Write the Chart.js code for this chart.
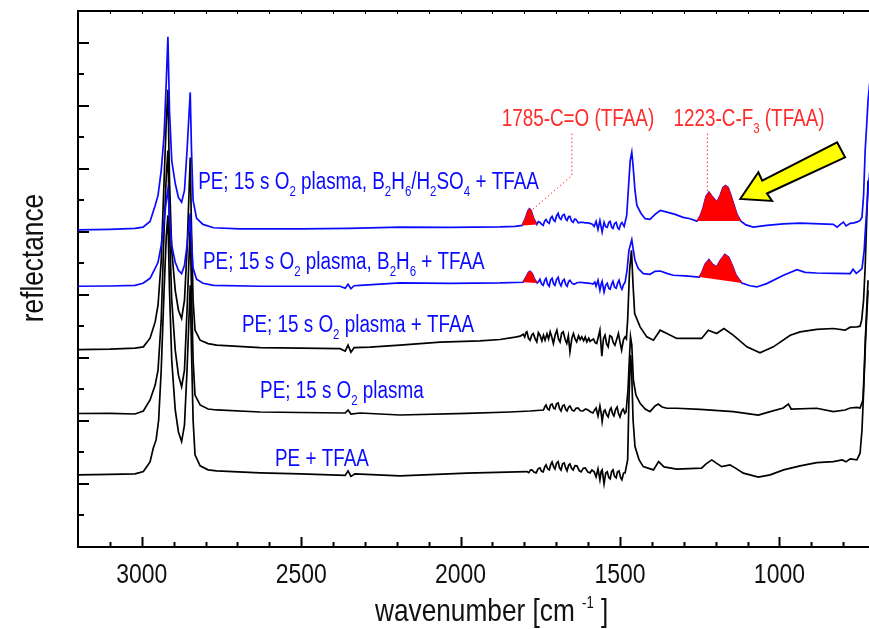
<!DOCTYPE html>
<html>
<head>
<meta charset="utf-8">
<script src="https://cdn.jsdelivr.net/npm/chart.js@4.4.0/dist/chart.umd.min.js"></script>
<style>
  html, body { margin: 0; padding: 0; background: #fff; }
  #wrap { width: 869px; height: 629px; }
</style>
</head>
<body>
<div id="wrap"><canvas id="spectra" width="869" height="629"></canvas></div>
<script>
// ============================================
// IR reflectance spectra of treated PE (stacked, offset)
// points are [wavenumber (cm-1), reflectance (a.u., offset)]
// ============================================

// PE; 15 s O2 plasma, B2H6/H2SO4 + TFAA
const traceBHS = [[3200,5.029],[3100,5.037],[3021,5.052],[2996,5.073],[2974,5.163],[2958,5.416],[2949,5.575],[2939,5.970],[2930,6.524],[2923,7.394],[2918,8.090],[2913,6.919],[2906,6.128],[2895,5.764],[2885,5.543],[2875,5.468],[2866,5.654],[2858,6.287],[2848,7.209],[2844,6.287],[2839,5.495],[2828,5.211],[2808,5.116],[2775,5.063],[2692,5.044],[2503,5.044],[2350,5.052],[2190,5.073],[2033,5.068],[1876,5.076],[1829,5.084],[1807,5.100],[1798,5.195],[1788,5.337],[1784,5.364],[1779,5.337],[1771,5.211],[1761,5.116],[1756,5.16],[1751,5.147],[1746,5.12],[1741,5.100],[1736,5.17],[1732,5.195],[1727,5.15],[1722,5.132],[1718,5.21],[1713,5.242],[1708,5.18],[1704,5.163],[1699,5.25],[1694,5.290],[1690,5.22],[1685,5.195],[1680,5.26],[1675,5.274],[1670,5.20],[1666,5.179],[1661,5.24],[1657,5.242],[1652,5.17],[1647,5.147],[1642,5.20],[1638,5.195],[1631,5.14],[1625,5.147],[1617,5.15],[1609,5.140],[1601,5.14],[1594,5.132],[1587,5.12],[1581,5.084],[1575,5.163],[1569,5.037],[1563,5.179],[1556,4.994],[1550,5.147],[1545,5.08],[1540,5.068],[1535,5.15],[1531,5.163],[1526,5.07],[1522,5.052],[1517,5.13],[1512,5.147],[1507,5.06],[1503,5.037],[1498,5.12],[1494,5.147],[1487,5.084],[1479,5.258],[1473,5.733],[1468,6.128],[1463,6.260],[1459,6.049],[1453,5.654],[1447,5.416],[1434,5.290],[1421,5.206],[1406,5.195],[1390,5.274],[1374,5.337],[1353,5.310],[1327,5.274],[1302,5.227],[1280,5.206],[1259,5.168],[1249,5.242],[1239,5.385],[1230,5.559],[1221,5.627],[1211,5.559],[1196,5.468],[1186,5.574],[1177,5.701],[1169,5.733],[1161,5.701],[1152,5.574],[1142,5.416],[1133,5.274],[1121,5.168],[1105,5.108],[1082,5.073],[1040,5.100],[988,5.124],[935,5.136],[872,5.124],[831,5.116],[819,5.073],[807,5.124],[799,5.152],[791,5.092],[778,5.132],[766,5.140],[756,5.155],[747,5.179],[741,5.231],[736,5.574],[731,6.287],[726,6.714],[722,7.078],[716,7.394]];

// PE; 15 s O2 plasma, B2H6 + TFAA
const traceBH = [[3200,4.135],[3100,4.139],[3021,4.150],[2996,4.182],[2974,4.261],[2958,4.420],[2949,4.514],[2939,4.783],[2930,5.179],[2923,5.495],[2918,5.665],[2913,5.258],[2906,4.783],[2895,4.514],[2885,4.388],[2875,4.336],[2866,4.467],[2858,4.783],[2848,5.290],[2844,4.862],[2839,4.420],[2828,4.245],[2808,4.182],[2775,4.150],[2629,4.135],[2503,4.135],[2378,4.135],[2362,4.103],[2353,4.166],[2344,4.095],[2334,4.143],[2315,4.150],[2190,4.187],[2033,4.182],[1876,4.187],[1804,4.198],[1795,4.277],[1787,4.356],[1782,4.372],[1776,4.341],[1768,4.245],[1760,4.187],[1755,4.21],[1751,4.245],[1746,4.17],[1741,4.150],[1736,4.23],[1732,4.261],[1727,4.17],[1722,4.135],[1718,4.23],[1713,4.261],[1708,4.17],[1704,4.150],[1699,4.24],[1694,4.277],[1690,4.19],[1685,4.143],[1680,4.22],[1675,4.245],[1670,4.16],[1666,4.135],[1661,4.21],[1657,4.230],[1650,4.18],[1644,4.166],[1635,4.19],[1625,4.198],[1610,4.19],[1594,4.182],[1585,4.17],[1579,4.20],[1575,4.135],[1569,4.230],[1563,4.071],[1559,4.17],[1556,4.214],[1550,4.044],[1545,4.15],[1540,4.182],[1535,4.10],[1531,4.087],[1526,4.17],[1522,4.214],[1517,4.12],[1512,4.103],[1507,4.19],[1503,4.230],[1498,4.13],[1494,4.087],[1489,4.16],[1484,4.198],[1478,4.388],[1472,4.704],[1463,4.874],[1459,4.736],[1453,4.546],[1443,4.419],[1427,4.336],[1406,4.325],[1390,4.372],[1374,4.377],[1353,4.340],[1333,4.309],[1296,4.301],[1251,4.282],[1243,4.356],[1233,4.483],[1221,4.557],[1210,4.483],[1197,4.440],[1185,4.546],[1171,4.641],[1159,4.594],[1148,4.467],[1136,4.309],[1118,4.187],[1092,4.143],[1071,4.124],[1040,4.177],[987,4.309],[945,4.399],[919,4.356],[883,4.345],[825,4.340],[778,4.336],[769,4.404],[759,4.340],[747,4.388],[741,4.415],[734,4.704],[731,4.973],[726,5.364],[722,5.654],[716,5.970]];

// PE; 15 s O2 plasma + TFAA
const traceO2T = [[3200,3.130],[3100,3.138],[3021,3.154],[2995,3.174],[2974,3.312],[2958,3.570],[2949,3.834],[2939,4.546],[2930,5.812],[2923,6.761],[2918,7.252],[2913,5.812],[2906,4.704],[2895,4.071],[2885,3.755],[2875,3.623],[2866,3.913],[2858,4.704],[2848,6.176],[2844,5.021],[2839,3.913],[2833,3.439],[2817,3.280],[2792,3.225],[2765,3.201],[2629,3.161],[2503,3.154],[2378,3.146],[2362,3.106],[2353,3.201],[2344,3.090],[2334,3.161],[2284,3.169],[2190,3.201],[2064,3.249],[1939,3.269],[1876,3.291],[1829,3.328],[1813,3.344],[1804,3.375],[1799,3.33],[1795,3.40],[1792,3.412],[1787,3.31],[1782,3.280],[1777,3.36],[1772,3.386],[1766,3.30],[1761,3.253],[1756,3.40],[1751,3.359],[1745,3.27],[1740,3.36],[1735,3.280],[1729,3.38],[1724,3.30],[1719,3.412],[1714,3.33],[1709,3.228],[1703,3.37],[1698,3.438],[1693,3.30],[1688,3.253],[1683,3.39],[1678,3.412],[1672,3.29],[1667,3.228],[1662,3.35],[1657,3.095],[1651,3.31],[1646,3.386],[1641,3.30],[1636,3.253],[1630,3.35],[1625,3.29],[1620,3.332],[1614,3.27],[1609,3.33],[1604,3.253],[1598,3.31],[1594,3.26],[1589,3.280],[1583,3.30],[1578,3.24],[1573,3.228],[1568,3.33],[1563,3.438],[1557,3.027],[1552,3.30],[1547,3.359],[1542,3.22],[1537,3.174],[1532,3.35],[1526,3.332],[1521,3.24],[1516,3.201],[1510,3.30],[1505,3.386],[1500,3.25],[1495,3.122],[1489,3.29],[1484,3.332],[1480,3.30],[1476,3.597],[1470,4.388],[1464,4.704],[1459,4.150],[1454,3.702],[1437,3.491],[1416,3.332],[1395,3.280],[1374,3.438],[1353,3.386],[1322,3.307],[1244,3.307],[1223,3.438],[1197,3.386],[1174,3.465],[1145,3.359],[1102,3.174],[1061,3.079],[1019,3.174],[966,3.359],[935,3.412],[883,3.450],[831,3.465],[794,3.438],[778,3.486],[757,3.491],[747,3.502],[742,3.597],[736,3.913],[731,4.440],[726,5.231],[722,5.812]];

// PE; 15 s O2 plasma
const traceO2 = [[3200,2.117],[3100,2.120],[3021,2.109],[2995,2.157],[2974,2.331],[2958,2.568],[2949,2.806],[2939,3.597],[2930,5.021],[2923,5.891],[2918,6.287],[2913,5.021],[2906,3.913],[2895,3.122],[2885,2.726],[2875,2.541],[2866,2.806],[2858,3.755],[2848,5.100],[2844,4.071],[2839,2.964],[2833,2.410],[2817,2.252],[2792,2.188],[2765,2.173],[2629,2.141],[2503,2.133],[2362,2.125],[2353,2.172],[2344,2.109],[2315,2.125],[2190,2.093],[1981,2.120],[1845,2.141],[1782,2.157],[1740,2.173],[1736,2.22],[1732,2.252],[1727,2.19],[1722,2.173],[1718,2.25],[1713,2.268],[1708,2.20],[1704,2.188],[1699,2.27],[1694,2.283],[1690,2.20],[1685,2.157],[1680,2.24],[1675,2.252],[1670,2.18],[1666,2.157],[1661,2.22],[1657,2.236],[1650,2.17],[1644,2.157],[1638,2.20],[1632,2.204],[1624,2.16],[1616,2.157],[1608,2.19],[1600,2.173],[1592,2.14],[1585,2.125],[1580,2.17],[1575,2.204],[1569,2.078],[1563,2.236],[1559,2.12],[1556,1.987],[1551,2.15],[1547,2.173],[1542,2.10],[1537,2.062],[1532,2.17],[1528,2.204],[1523,2.11],[1519,2.078],[1514,2.18],[1509,2.220],[1505,2.12],[1500,2.062],[1495,2.15],[1490,2.188],[1485,2.12],[1481,2.141],[1475,2.489],[1470,3.043],[1467,3.332],[1463,3.201],[1458,2.647],[1450,2.410],[1437,2.279],[1421,2.188],[1406,2.146],[1390,2.236],[1380,2.268],[1368,2.220],[1353,2.200],[1322,2.200],[1249,2.181],[1145,2.146],[1066,2.093],[1040,2.130],[988,2.204],[972,2.268],[963,2.188],[883,2.200],[831,2.146],[794,2.173],[778,2.204],[757,2.215],[747,2.204],[738,2.331],[734,2.806],[731,3.228],[726,3.807],[722,4.230]];

// PE + TFAA
const tracePE = [[3200,1.144],[3100,1.152],[3021,1.160],[2995,1.196],[2974,1.350],[2964,1.567],[2955,1.698],[2947,2.014],[2939,2.806],[2930,4.071],[2923,4.942],[2918,5.258],[2913,4.071],[2906,2.964],[2895,2.173],[2885,1.824],[2875,1.671],[2866,1.935],[2858,2.806],[2848,4.150],[2844,3.122],[2839,2.014],[2833,1.461],[2817,1.287],[2792,1.223],[2765,1.207],[2629,1.176],[2503,1.160],[2362,1.136],[2353,1.207],[2344,1.120],[2331,1.160],[2190,1.128],[1981,1.171],[1792,1.196],[1786,1.18],[1781,1.22],[1776,1.223],[1770,1.19],[1763,1.176],[1757,1.24],[1751,1.255],[1746,1.20],[1741,1.192],[1736,1.27],[1732,1.302],[1727,1.24],[1722,1.223],[1717,1.31],[1713,1.350],[1708,1.27],[1704,1.239],[1699,1.33],[1694,1.354],[1690,1.26],[1685,1.223],[1680,1.32],[1675,1.334],[1670,1.25],[1666,1.208],[1661,1.30],[1657,1.318],[1652,1.25],[1647,1.223],[1641,1.29],[1635,1.286],[1628,1.21],[1622,1.192],[1615,1.25],[1609,1.255],[1601,1.19],[1594,1.176],[1588,1.22],[1581,1.192],[1575,1.113],[1569,1.239],[1563,1.065],[1559,1.20],[1556,1.223],[1550,1.002],[1545,1.17],[1540,1.192],[1535,1.10],[1531,1.081],[1526,1.20],[1522,1.223],[1517,1.12],[1512,1.097],[1508,1.19],[1503,1.208],[1498,1.10],[1494,1.065],[1489,1.17],[1484,1.176],[1476,1.381],[1472,2.331],[1467,3.043],[1464,2.885],[1459,2.014],[1453,1.592],[1440,1.381],[1427,1.275],[1395,1.223],[1379,1.354],[1362,1.270],[1322,1.234],[1244,1.250],[1230,1.318],[1212,1.381],[1199,1.334],[1181,1.275],[1155,1.302],[1139,1.255],[1113,1.171],[1066,1.108],[1029,1.144],[987,1.223],[935,1.287],[883,1.339],[831,1.354],[803,1.381],[791,1.350],[778,1.397],[757,1.381],[747,1.487],[741,1.856],[737,2.331],[729,3.386],[722,4.071]];

// axis ticks
const xMajor = [1000, 1500, 2000, 2500, 3000];
const xTicks = [800, 900, 1000, 1100, 1200, 1300, 1400, 1500, 1600, 1700, 1800, 1900, 2000,
                2100, 2200, 2300, 2400, 2500, 2600, 2700, 2800, 2900, 3000, 3100];
const yMajor = [1, 2, 3, 4, 5, 6, 7, 8];
const yMinor = [0.5, 1.5, 2.5, 3.5, 4.5, 5.5, 6.5, 7.5];

// TFAA bands shaded red: [trace, from, to] in cm-1
const bands = [
    [traceBHS, 1761, 1807], [traceBHS, 1121, 1259],
    [traceBH, 1760, 1804], [traceBH, 1118, 1251],
];

// sample labels (anchor = left end of baseline, data units)
const sampleLabels = [
    { wn: 2823, r: 5.68, parts: [['PE; 15 s O'], ['2', 'sub'], [' plasma, B'], ['2', 'sub'], ['H'], ['6', 'sub'], ['/H'], ['2', 'sub'], ['SO'], ['4', 'sub'], [' + TFAA']] },
    { wn: 2808, r: 4.41, parts: [['PE; 15 s O'], ['2', 'sub'], [' plasma, B'], ['2', 'sub'], ['H'], ['6', 'sub'], [' + TFAA']] },
    { wn: 2686, r: 3.41, parts: [['PE; 15 s O'], ['2', 'sub'], [' plasma + TFAA']] },
    { wn: 2629, r: 2.36, parts: [['PE; 15 s O'], ['2', 'sub'], [' plasma']] },
    { wn: 2582, r: 1.29, parts: [['PE + TFAA']] },
];
const bandLabels = [
    { wn: 1871, r: 6.68, parts: [['1785-C=O (TFAA)']] },
    { wn: 1332, r: 6.68, parts: [['1223-C-F'], ['3', 'sub'], [' (TFAA)']] },
];
const leaders = [
    [[1651, 6.555], [1651, 5.89], [1777, 5.34]],
    [[1226, 6.555], [1226, 5.63]],
];
const arrow = [[1123, 5.519], [1066, 5.943], [1054, 5.81], [819, 6.418], [794, 6.18], [1039, 5.606], [1023, 5.487]];

// narrow look: Liberation Sans squeezed horizontally
const FONT = "'Liberation Sans', Arial, sans-serif";
const SX = 0.82;
const BLUE = '#0a0aff';
const RED = '#ff0000';

const toXY = arr => arr.map(p => ({ x: p[0], y: p[1] }));

function richText(ctx, parts, x, y, size, color, align) {
    ctx.save();
    ctx.fillStyle = color;
    ctx.textAlign = 'left';
    ctx.textBaseline = 'alphabetic';
    let w = 0;
    for (const [t, mode] of parts) {
        ctx.font = `${mode ? Math.round(size * (mode === 'sub' ? 0.6 : 0.5)) : size}px ${FONT}`;
        w += ctx.measureText(t).width;
    }
    ctx.translate(align === 'center' ? x - (w * SX) / 2 : x, y);
    ctx.scale(SX, 1);
    let cx = 0;
    for (const [t, mode] of parts) {
        let s = size, dy = 0;
        if (mode === 'sub') { s = Math.round(size * 0.6); dy = size * 0.3; }
        if (mode === 'sup') { s = Math.round(size * 0.5); dy = -size * 0.42; }
        ctx.font = `${s}px ${FONT}`;
        ctx.fillText(t, cx, dy);
        cx += ctx.measureText(t).width;
    }
    ctx.restore();
}

const overlay = {
    id: 'overlay',
    afterDatasetsDraw(chart) {
        const { ctx, scales: { x, y } } = chart;
        const px = p => [x.getPixelForValue(p[0]), y.getPixelForValue(p[1])];
        ctx.save();
        // dotted leader lines
        ctx.strokeStyle = '#ff3030';
        ctx.lineWidth = 1;
        ctx.setLineDash([1.5, 2.5]);
        leaders.forEach(seg => {
            ctx.beginPath();
            seg.forEach((p, i) => { const [a, b] = px(p); i ? ctx.lineTo(a, b) : ctx.moveTo(a, b); });
            ctx.stroke();
        });
        ctx.setLineDash([]);
        // yellow arrow
        ctx.beginPath();
        arrow.forEach((p, i) => { const [a, b] = px(p); i ? ctx.lineTo(a, b) : ctx.moveTo(a, b); });
        ctx.closePath();
        ctx.fillStyle = '#ffff00';
        ctx.fill();
        ctx.strokeStyle = '#000';
        ctx.lineWidth = 2;
        ctx.lineJoin = 'miter';
        ctx.stroke();
        // labels
        sampleLabels.forEach(l => { const [a, b] = px([l.wn, l.r]); richText(ctx, l.parts, a, b, 23, BLUE); });
        bandLabels.forEach(l => { const [a, b] = px([l.wn, l.r]); richText(ctx, l.parts, a, b, 23, '#ff2a2a'); });
        ctx.restore();
    },
    afterDraw(chart) {
        const { ctx, chartArea: area, scales: { x, y } } = chart;
        ctx.save();
        ctx.strokeStyle = '#000';
        const seg = (x1, y1, x2, y2) => { ctx.beginPath(); ctx.moveTo(x1, y1); ctx.lineTo(x2, y2); ctx.stroke(); };
        // top frame line
        ctx.lineWidth = 2;
        seg(area.left - 1, area.top, area.right, area.top);
        // inward ticks
        xTicks.forEach(v => {
            const p = Math.round(x.getPixelForValue(v)) + 0.5;
            ctx.lineWidth = 2;
            seg(p, area.bottom, p, area.bottom - (xMajor.includes(v) ? 10 : 5));
            ctx.lineWidth = 1;
            seg(p, area.top, p, area.top + 3);
        });
        ctx.lineWidth = 2;
        yMajor.forEach(v => { const p = Math.round(y.getPixelForValue(v)); seg(area.left, p, area.left + 11, p); });
        yMinor.forEach(v => { const p = Math.round(y.getPixelForValue(v)); seg(area.left, p, area.left + 6, p); });
        // tick labels
        xMajor.forEach(v => richText(ctx, [[String(v)]], x.getPixelForValue(v), area.bottom + 35.5, 28, '#111', 'center'));
        // axis titles
        richText(ctx, [['wavenumber [cm '], ['-1', 'sup'], [' ]']], 375, 621, 32, '#111');
        ctx.translate(43, 258);
        ctx.rotate(-Math.PI / 2);
        richText(ctx, [['reflectance']], 0, 0, 32, '#111', 'center');
        ctx.restore();
    },
};

const traceDs = (data, color) => ({
    data: toXY(data),
    borderColor: color,
    borderWidth: 1.7,
    pointRadius: 0,
    tension: 0,
    fill: false,
    order: 1,
});

const datasets = [
    traceDs(traceBHS, BLUE),
    traceDs(traceBH, BLUE),
    traceDs(traceO2T, '#000'),
    traceDs(traceO2, '#000'),
    traceDs(tracePE, '#000'),
    ...bands.map(([tr, lo, hi]) => ({
        data: toXY(tr.filter(p => p[0] >= lo && p[0] <= hi)),
        borderColor: RED,
        backgroundColor: RED,
        borderWidth: 1,
        pointRadius: 0,
        tension: 0,
        fill: 'shape',
        order: 0,
    })),
];

new Chart(document.getElementById('spectra'), {
    type: 'line',
    data: { datasets },
    options: {
        responsive: false,
        animation: false,
        events: [],
        devicePixelRatio: 1,
        layout: { padding: { top: 11, right: 0, bottom: 0, left: 0 } },
        plugins: { legend: { display: false }, tooltip: { enabled: false } },
        scales: {
            x: {
                type: 'linear',
                reverse: true,
                min: 719,
                max: 3200,
                afterBuildTicks: s => { s.ticks = xTicks.map(v => ({ value: v })); },
                afterFit: s => { s.height = 82; },
                grid: { display: false, drawTicks: false },
                border: { display: true, color: '#000', width: 2 },
                ticks: { display: false },
            },
            y: {
                min: 0,
                max: 8.5,
                afterFit: s => { s.width = 78; },
                grid: { display: false, drawTicks: false },
                border: { display: true, color: '#000', width: 2 },
                ticks: { display: false },
            },
        },
    },
    plugins: [overlay],
});
</script>
</body>
</html>
